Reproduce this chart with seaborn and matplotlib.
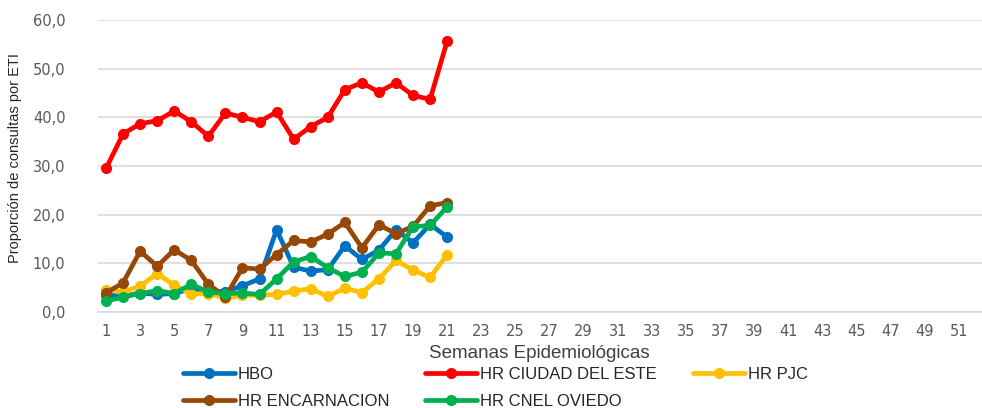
import numpy as np
import pandas as pd
import seaborn as sns
import matplotlib.pyplot as plt
from matplotlib.ticker import FuncFormatter
from matplotlib.lines import Line2D

semanas = list(range(1, 22))

hbo = [3.5, 3.2, 3.9, 3.6, 3.8, 4.8, 4.2, 4.2, 5.4, 6.8, 16.9, 9.2, 8.4, 8.7, 13.6, 10.8, 12.7, 16.9, 14.2, 18.0, 15.4]
ciudad_del_este = [29.5, 36.6, 38.7, 39.3, 41.3, 39.1, 36.1, 40.9, 40.0, 39.1, 41.1, 35.5, 38.1, 40.0, 45.7, 47.1, 45.2, 47.1, 44.5, 43.7, 55.7]
pjc = [4.6, 4.1, 5.3, 7.9, 5.5, 3.7, 3.8, 2.9, 3.4, 3.5, 3.6, 4.3, 4.8, 3.2, 4.9, 4.0, 6.8, 10.6, 8.6, 7.1, 11.8]
encarnacion = [3.9, 6.0, 12.5, 9.4, 12.8, 10.6, 5.7, 3.1, 9.1, 8.8, 11.8, 14.7, 14.4, 16.0, 18.4, 13.2, 17.9, 16.1, 17.6, 21.8, 22.5]
cnel_oviedo = [2.2, 3.1, 3.8, 4.4, 3.8, 5.7, 4.1, 3.8, 3.9, 3.6, 6.8, 10.3, 11.4, 9.1, 7.3, 8.2, 12.1, 12.0, 17.5, 17.8, 21.6]

series = {
    "HBO": hbo,
    "HR CIUDAD DEL ESTE": ciudad_del_este,
    "HR PJC": pjc,
    "HR ENCARNACION": encarnacion,
    "HR CNEL OVIEDO": cnel_oviedo,
}
colores = {
    "HBO": "#0070C0",
    "HR CIUDAD DEL ESTE": "#FF0000",
    "HR PJC": "#FFC000",
    "HR ENCARNACION": "#974806",
    "HR CNEL OVIEDO": "#00B050",
}

df = pd.concat([pd.DataFrame({"semana": semanas, "valor": v, "hospital": k})
                for k, v in series.items()], ignore_index=True)

sns.set_style("white")
plt.rcParams['font.family'] = ['DejaVu Sans']

fig = plt.figure(figsize=(9.82, 4.08), dpi=100)
ax = fig.add_axes([97.5 / 982, 1 - 312 / 408, 887 / 982, 292 / 408])

sns.lineplot(data=df, x="semana", y="valor", hue="hospital", palette=colores,
             marker="o", markersize=8, markeredgewidth=0, linewidth=3.4,
             dashes=False, legend=False, ax=ax)

ax.set_xlim(0.5, 52.5)
ax.set_ylim(0, 60)
ax.set_yticks(np.arange(0, 61, 10))
ax.yaxis.set_major_formatter(FuncFormatter(lambda v, p: f"{v:.1f}".replace(".", ",")))
ax.set_xticks(range(1, 52, 2))
ax.grid(axis="y", color="#D9D9D9", linewidth=1.2)
ax.set_axisbelow(True)
for s in ["top", "right", "left"]:
    ax.spines[s].set_visible(False)
ax.spines["bottom"].set_color("#D9D9D9")
ax.spines["bottom"].set_linewidth(1.2)
ax.tick_params(axis="both", length=0, labelsize=10.5, labelcolor="#595959")
ax.tick_params(axis="x", pad=9)
ax.tick_params(axis="y", pad=23)

narrow = ['Liberation Sans', 'DejaVu Sans']
ax.set_xlabel("Semanas Epidemiológicas", fontsize=13.5, color="#404040", family=narrow)
ax.xaxis.set_label_coords((539 - 97.5) / 887, -(354 - 312) / 292)
ax.xaxis.label.set_va("center")
ax.set_ylabel("Proporción de consultas por ETI", fontsize=10.5, color="#262626", family=narrow)
ax.yaxis.set_label_coords((15 - 97.5) / 887, (312 - 158) / 292)
ax.yaxis.label.set_va("center")

orden = ["HBO", "HR ENCARNACION", "HR CIUDAD DEL ESTE", "HR CNEL OVIEDO", "HR PJC"]
handles = [Line2D([], [], color=colores[k], linewidth=3.4, marker="o", markersize=8, markeredgewidth=0) for k in orden]
leg = fig.legend(handles, orden, ncol=3, loc="upper left", bbox_to_anchor=(183 / 982, 1 - 367 / 408),
                 frameon=False, handlelength=3.1, handletextpad=0.2, columnspacing=2.15,
                 labelspacing=0.7, borderaxespad=0, borderpad=0, prop={"family": narrow, "size": 12})
for t in leg.get_texts():
    t.set_color("#262626")

fig.savefig("out.png", dpi=100)
